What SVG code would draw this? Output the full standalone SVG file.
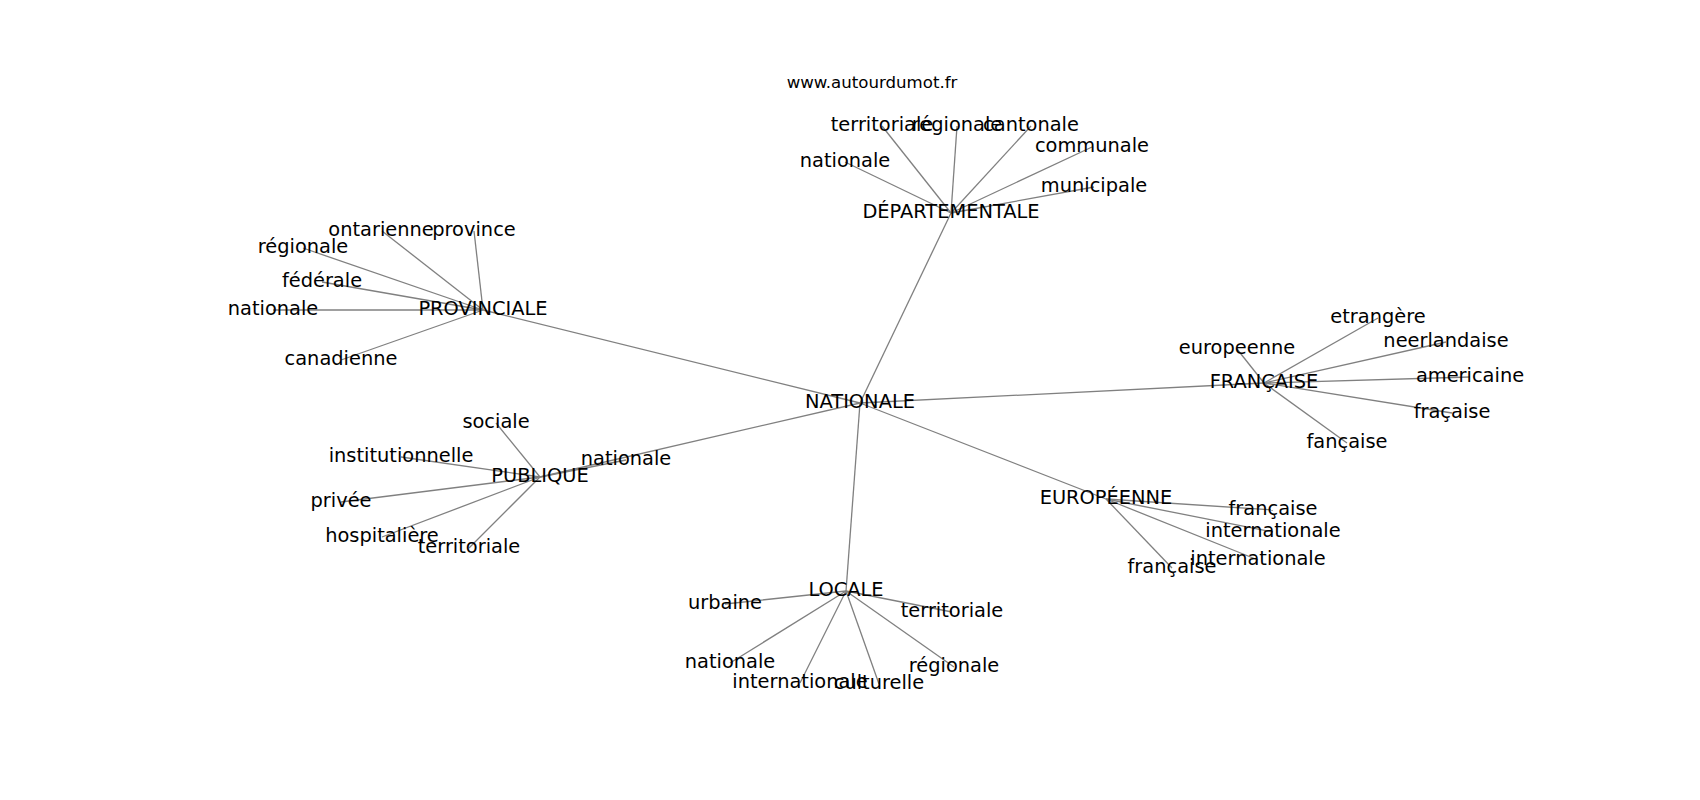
<svg xmlns="http://www.w3.org/2000/svg" width="1700" height="800" viewBox="0 0 1700 800">
<style>
.e{stroke:#808080;stroke-width:1.3;fill:none}
text{font-family:"DejaVu Sans","Liberation Sans",sans-serif;font-size:19.4px;fill:#000;text-anchor:middle}
.t{font-size:16.6px}
</style>
<rect width="1700" height="800" fill="#fff"/>
<g id="edges">
<line class="e" x1="860" y1="403" x2="951" y2="213"/>
<line class="e" x1="860" y1="403" x2="483" y2="310"/>
<line class="e" x1="860" y1="403" x2="540" y2="477"/>
<line class="e" x1="860" y1="403" x2="1264" y2="383"/>
<line class="e" x1="860" y1="403" x2="1106" y2="499"/>
<line class="e" x1="860" y1="403" x2="846" y2="591"/>
<line class="e" x1="951" y1="213" x2="882" y2="126"/>
<line class="e" x1="951" y1="213" x2="957" y2="126"/>
<line class="e" x1="951" y1="213" x2="1031" y2="126"/>
<line class="e" x1="951" y1="213" x2="845" y2="162"/>
<line class="e" x1="951" y1="213" x2="1092" y2="147"/>
<line class="e" x1="951" y1="213" x2="1094" y2="187"/>
<line class="e" x1="483" y1="310" x2="382" y2="231"/>
<line class="e" x1="483" y1="310" x2="474" y2="231"/>
<line class="e" x1="483" y1="310" x2="303" y2="248"/>
<line class="e" x1="483" y1="310" x2="322" y2="282"/>
<line class="e" x1="483" y1="310" x2="273" y2="310"/>
<line class="e" x1="483" y1="310" x2="341" y2="360"/>
<line class="e" x1="540" y1="477" x2="496" y2="423"/>
<line class="e" x1="540" y1="477" x2="401" y2="457"/>
<line class="e" x1="540" y1="477" x2="341" y2="502"/>
<line class="e" x1="540" y1="477" x2="382" y2="537"/>
<line class="e" x1="540" y1="477" x2="469" y2="548"/>
<line class="e" x1="540" y1="477" x2="626" y2="460"/>
<line class="e" x1="1264" y1="383" x2="1237" y2="349"/>
<line class="e" x1="1264" y1="383" x2="1378" y2="318"/>
<line class="e" x1="1264" y1="383" x2="1446" y2="342"/>
<line class="e" x1="1264" y1="383" x2="1470" y2="377"/>
<line class="e" x1="1264" y1="383" x2="1452" y2="413"/>
<line class="e" x1="1264" y1="383" x2="1347" y2="443"/>
<line class="e" x1="1106" y1="499" x2="1273" y2="510"/>
<line class="e" x1="1106" y1="499" x2="1273" y2="532"/>
<line class="e" x1="1106" y1="499" x2="1258" y2="560"/>
<line class="e" x1="1106" y1="499" x2="1172" y2="568"/>
<line class="e" x1="846" y1="591" x2="725" y2="604"/>
<line class="e" x1="846" y1="591" x2="952" y2="612"/>
<line class="e" x1="846" y1="591" x2="730" y2="663"/>
<line class="e" x1="846" y1="591" x2="800" y2="683"/>
<line class="e" x1="846" y1="591" x2="879" y2="684"/>
<line class="e" x1="846" y1="591" x2="954" y2="667"/>
</g>
<g id="title"><text class="t" x="872" y="88">www.autourdumot.fr</text></g>
<g id="n-nationale"><text x="860" y="408">NATIONALE</text></g>
<g id="n-departementale"><text x="951" y="218">DÉPARTEMENTALE</text></g>
<g id="n-provinciale"><text x="483" y="315">PROVINCIALE</text></g>
<g id="n-publique"><text x="540" y="482">PUBLIQUE</text></g>
<g id="n-francaise"><text x="1264" y="388">FRANÇAISE</text></g>
<g id="n-europeenne"><text x="1106" y="504">EUROPÉENNE</text></g>
<g id="n-locale"><text x="846" y="596">LOCALE</text></g>
<g id="d-territoriale"><text x="882" y="131">territoriale</text></g>
<g id="d-regionale"><text x="957" y="131">régionale</text></g>
<g id="d-cantonale"><text x="1031" y="131">cantonale</text></g>
<g id="d-nationale"><text x="845" y="167">nationale</text></g>
<g id="d-communale"><text x="1092" y="152">communale</text></g>
<g id="d-municipale"><text x="1094" y="192">municipale</text></g>
<g id="p-ontarienne"><text x="381" y="236">ontarienne</text></g>
<g id="p-province"><text x="474" y="236">province</text></g>
<g id="p-regionale"><text x="303" y="253">régionale</text></g>
<g id="p-federale"><text x="322" y="287">fédérale</text></g>
<g id="p-nationale"><text x="273" y="315">nationale</text></g>
<g id="p-canadienne"><text x="341" y="365">canadienne</text></g>
<g id="u-sociale"><text x="496" y="428">sociale</text></g>
<g id="u-institutionnelle"><text x="401" y="462">institutionnelle</text></g>
<g id="u-privee"><text x="341" y="507">privée</text></g>
<g id="u-hospitaliere"><text x="382" y="542">hospitalière</text></g>
<g id="u-territoriale"><text x="469" y="553">territoriale</text></g>
<g id="u-nationale"><text x="626" y="465">nationale</text></g>
<g id="f-europeenne"><text x="1237" y="354">europeenne</text></g>
<g id="f-etrangere"><text x="1378" y="323">etrangère</text></g>
<g id="f-neerlandaise"><text x="1446" y="347">neerlandaise</text></g>
<g id="f-americaine"><text x="1470" y="382">americaine</text></g>
<g id="f-fracaise"><text x="1452" y="418">fraçaise</text></g>
<g id="f-fancaise"><text x="1347" y="448">fançaise</text></g>
<g id="e-francaise1"><text x="1273" y="515">française</text></g>
<g id="e-internationale1"><text x="1273" y="537">internationale</text></g>
<g id="e-internationale2"><text x="1258" y="565">internationale</text></g>
<g id="e-francaise2"><text x="1172" y="573">française</text></g>
<g id="l-urbaine"><text x="725" y="609">urbaine</text></g>
<g id="l-territoriale"><text x="952" y="617">territoriale</text></g>
<g id="l-nationale"><text x="730" y="668">nationale</text></g>
<g id="l-internationale"><text x="800" y="688">internationale</text></g>
<g id="l-culturelle"><text x="879" y="689">culturelle</text></g>
<g id="l-regionale"><text x="954" y="672">régionale</text></g>
</svg>
